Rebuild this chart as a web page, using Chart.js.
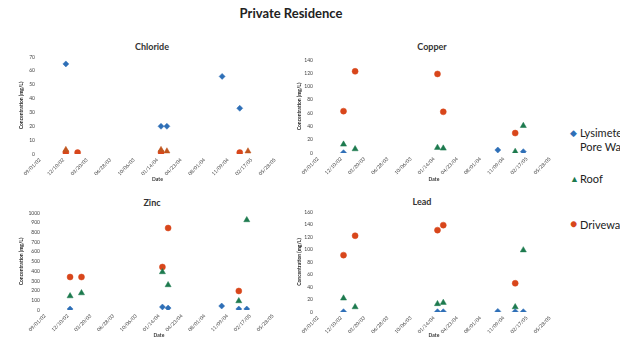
<!DOCTYPE html>
<html>
<head>
<meta charset="utf-8">
<title>Private Residence</title>
<script src="https://cdn.jsdelivr.net/npm/chart.js@4"></script>
<style>
    body { margin: 0; background: #fff; font-family: Lato, "Open Sans", sans-serif; }
    #page { position: relative; width: 620px; height: 337px; overflow: hidden; background: #fff; }
    .panel { position: absolute; }
    .main-title { position: absolute; left: 0; width: 582px; top: 5px; text-align: center;
                  font-weight: bold; font-size: 13px; color: #222; }
    .sub-title { position: absolute; font-weight: bold; font-size: 9px; color: #333; text-align: center; width: 80px; }
    .legend { position: absolute; left: 570px; top: 126px; width: 60px; font-size: 11px; color: #222; }
    .legend .item { display: flex; align-items: flex-start; position: absolute; left: 0; width: 70px; line-height: 14px; }
    .legend .mark { width: 10px; flex: none; font-size: 9px; }
</style>
</head>
<body>
<div id="page">
    <div class="main-title">Private Residence</div>

    <div class="sub-title" style="left:112px; top:41px;">Chloride</div>
    <div class="sub-title" style="left:392px; top:41px;">Copper</div>
    <div class="sub-title" style="left:112px; top:197px;">Zinc</div>
    <div class="sub-title" style="left:382px; top:196px;">Lead</div>

    <canvas class="panel" id="chloride" style="left:0; top:30px;"></canvas>
    <canvas class="panel" id="copper" style="left:290px; top:30px;"></canvas>
    <canvas class="panel" id="zinc" style="left:0; top:186px;"></canvas>
    <canvas class="panel" id="lead" style="left:290px; top:186px;"></canvas>

    <div class="legend">
        <div class="item" style="top:0;"><span class="mark" style="color:#2e6fb7;">&#9670;</span><span>Lysimeter Pore Water</span></div>
        <div class="item" style="top:46px;"><span class="mark" style="color:#1d7a4e;">&#9650;</span><span>Roof</span></div>
        <div class="item" style="top:92px;"><span class="mark" style="color:#d8461b; font-size:12px; margin-top:-1px;">&#9679;</span><span>Driveway</span></div>
    </div>
</div>

<script>
// Sampling dates shared by all four analytes
const sampleDates = ['12/20/02', '02/08/03', '01/29/04', '02/23/04', '10/15/04', '12/29/04', '02/02/05'];

// Date axis: first tick and spacing (days)
const axisStart = '09/01/02';
const axisStepDays = 100;
const axisSteps = 10;

// Concentrations (mg/L), one value per sampling date, null = not sampled
const chlorideLysimeter = [65, null, 20, 20, 56, 33, null];
const chlorideRoof      = [3, null, 3, 2, null, null, 2];
const chlorideDriveway  = [1, 1, 1, null, null, 1, null];

const copperLysimeter = [0.5, null, null, null, 4.5, null, 2];
const copperRoof      = [13, 6, 8, 7, null, 2, 41];
const copperDriveway  = [63, 123, 119, 62, null, 30, null];

const zincLysimeter = [10, null, 31, 20, 41, 10, 10];
const zincRoof      = [144, 175, 392, 258, null, 93, 928];
const zincDriveway  = [340, 340, 443, 845, null, 196, null];

const leadLysimeter = [0.5, null, 0.5, 0.5, 1, 0.5, 0.5];
const leadRoof      = [22, 8, 13, 15, null, 8, 99];
const leadDriveway  = [91, 122, 131, 139, null, 46, null];

const BLUE = '#2e6fb7';
const GREEN = '#1d7a4e';
const ORANGE = '#d8461b';

function parseDate(str) {
    const [m, d, y] = str.split('/').map(Number);
    return Date.UTC(2000 + y, m - 1, d);
}

const DAY = 86400000;
const startMs = parseDate(axisStart);

function daysFromStart(str) {
    return Math.round((parseDate(str) - startMs) / DAY);
}

function formatDate(days) {
    const dt = new Date(startMs + days * DAY);
    const pad = n => String(n).padStart(2, '0');
    return pad(dt.getUTCMonth() + 1) + '/' + pad(dt.getUTCDate()) + '/' + pad(dt.getUTCFullYear() % 100);
}

function toPoints(values) {
    const pts = [];
    values.forEach((v, i) => {
        if (v !== null) pts.push({ x: daysFromStart(sampleDates[i]), y: v });
    });
    return pts;
}

function series(label, values, color, style, radius) {
    return {
        label: label,
        data: toPoints(values),
        pointStyle: style,
        pointRadius: radius,
        pointHoverRadius: radius,
        backgroundColor: color,
        borderColor: color,
        borderWidth: 0.5
    };
}

function makePanel(id, opts) {
    const canvas = document.getElementById(id);
    canvas.width = opts.width;
    canvas.height = opts.height;
    canvas.style.width = opts.width + 'px';
    canvas.style.height = opts.height + 'px';

    new Chart(canvas.getContext('2d'), {
        type: 'scatter',
        data: { datasets: opts.datasets },
        options: {
            responsive: false,
            animation: false,
            layout: { padding: opts.padding },
            plugins: { legend: { display: false }, tooltip: { enabled: false } },
            scales: {
                x: {
                    type: 'linear',
                    min: 0,
                    max: axisStepDays * axisSteps,
                    border: { display: false },
                    grid: { display: false, drawTicks: false },
                    ticks: {
                        stepSize: axisStepDays,
                        autoSkip: false,
                        maxRotation: 45,
                        minRotation: 45,
                        padding: 3,
                        color: '#444',
                        font: { size: 5, family: 'Lato' },
                        callback: v => formatDate(v)
                    },
                    title: {
                        display: true,
                        text: 'Date',
                        color: '#333',
                        padding: { top: 1 },
                        font: { size: 5, weight: 'bold', family: 'Lato' }
                    },
                    afterFit: s => { s.height = opts.xHeight; }
                },
                y: {
                    min: 0,
                    max: opts.yMax,
                    border: { display: false },
                    grid: { display: false, drawTicks: false },
                    ticks: {
                        stepSize: opts.yStep,
                        padding: 5,
                        color: '#444',
                        font: { size: 5, family: 'Lato' },
                        callback: v => String(v)
                    },
                    title: {
                        display: true,
                        text: 'Concentration (mg/L)',
                        color: '#222',
                        padding: 0,
                        font: { size: 5, weight: 'bold', family: 'Lato' }
                    },
                    afterFit: s => { s.width = opts.yWidth; }
                }
            }
        }
    });
}

makePanel('chloride', {
    width: 290, height: 156,
    padding: { left: 18, right: 15, top: 27, bottom: 0 },
    yWidth: 22, xHeight: 32,
    yMax: 70, yStep: 10,
    datasets: [
        series('Lysimeter Pore Water', chlorideLysimeter, BLUE, 'rectRot', 3),
        series('Roof', chlorideRoof, '#c0561f', 'triangle', 3.5),
        series('Driveway', chlorideDriveway, ORANGE, 'circle', 3)
    ]
});

makePanel('copper', {
    width: 270, height: 156,
    padding: { left: 6, right: 10, top: 30, bottom: 0 },
    yWidth: 22, xHeight: 33,
    yMax: 140, yStep: 20,
    datasets: [
        series('Lysimeter Pore Water', copperLysimeter, BLUE, 'rectRot', 3),
        series('Roof', copperRoof, GREEN, 'triangle', 3.5),
        series('Driveway', copperDriveway, ORANGE, 'circle', 3)
    ]
});

makePanel('zinc', {
    width: 290, height: 156,
    padding: { left: 18, right: 17, top: 27, bottom: 0 },
    yWidth: 27, xHeight: 32,
    yMax: 1000, yStep: 100,
    datasets: [
        series('Lysimeter Pore Water', zincLysimeter, BLUE, 'rectRot', 3),
        series('Roof', zincRoof, GREEN, 'triangle', 3.5),
        series('Driveway', zincDriveway, ORANGE, 'circle', 3)
    ]
});

makePanel('lead', {
    width: 270, height: 156,
    padding: { left: 6, right: 10, top: 26, bottom: 0 },
    yWidth: 22, xHeight: 30,
    yMax: 160, yStep: 20,
    datasets: [
        series('Lysimeter Pore Water', leadLysimeter, BLUE, 'rectRot', 3),
        series('Roof', leadRoof, GREEN, 'triangle', 3.5),
        series('Driveway', leadDriveway, ORANGE, 'circle', 3)
    ]
});
</script>
</body>
</html>
